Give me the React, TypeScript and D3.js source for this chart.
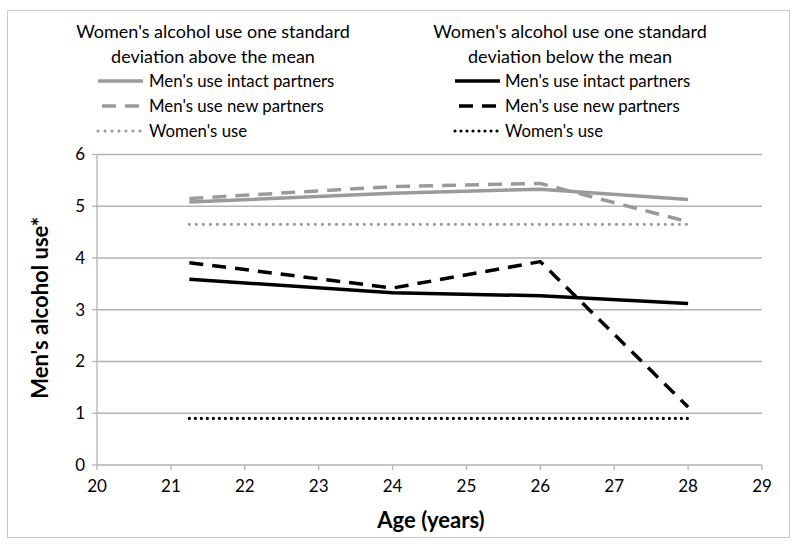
import React from "react";
import * as d3 from "d3";

const ages = [21.25, 24, 26, 28];
const aboveIntact = [5.08, 5.25, 5.33, 5.13];
const aboveNew = [5.15, 5.38, 5.44, 4.70];
const aboveWomen = [4.65, 4.65, 4.65, 4.65];
const belowIntact = [3.59, 3.33, 3.27, 3.12];
const belowNew = [3.91, 3.42, 3.93, 1.12];
const belowWomen = [0.9, 0.9, 0.9, 0.9];
const xTicks = [20, 21, 22, 23, 24, 25, 26, 27, 28, 29];
const yTicks = [0, 1, 2, 3, 4, 5, 6];

const legendTitles = [
  ["Women's alcohol use one standard", "deviation above the mean"],
  ["Women's alcohol use one standard", "deviation below the mean"],
];
const legendLabels = ["Men's use intact partners", "Men's use new partners", "Women's use"];

const GRAY = "#9a9a9a";
const BLACK = "#000";
const FONT = "Lato, 'Open Sans', sans-serif";

type Series = { values: number[]; color: string; dash: string; cap: string; width: number };
const series: Series[] = [
  { values: aboveIntact, color: GRAY, dash: "none", cap: "butt", width: 3.5 },
  { values: aboveNew, color: GRAY, dash: "14,9", cap: "butt", width: 3.5 },
  { values: aboveWomen, color: GRAY, dash: "0,7", cap: "round", width: 3.2 },
  { values: belowIntact, color: BLACK, dash: "none", cap: "butt", width: 3.5 },
  { values: belowNew, color: BLACK, dash: "14,9", cap: "butt", width: 3.5 },
  { values: belowWomen, color: BLACK, dash: "0,6", cap: "round", width: 3.2 },
];

export default function App() {
  const W = 800, H = 546;
  const x = d3.scaleLinear().domain([20, 29]).range([97, 762]);
  const y = d3.scaleLinear().domain([0, 6]).range([465, 154.5]);
  const line = d3.line<[number, number]>().x(d => x(d[0])).y(d => y(d[1]));

  const legendCols = [
    { titleX: 213, sampleX: 98, textX: 149 },
    { titleX: 570, sampleX: 455, textX: 505 },
  ];

  return (
    <svg width={W} height={H} style={{ position: "absolute", left: 0, top: 0 }} fontFamily={FONT}>
      <rect x={0} y={0} width={W} height={H} fill="#fff" />
      <rect x={7.5} y={10.5} width={782} height={527} fill="#fff" stroke="#c8c8c8" strokeWidth={1} />

      {/* gridlines */}
      {yTicks.map(t => (
        <line key={"g" + t} x1={x(20)} x2={x(29)} y1={y(t)} y2={y(t)} stroke="#b3b3b3" strokeWidth={1.3} />
      ))}
      {/* y axis */}
      <line x1={x(20)} x2={x(20)} y1={y(0)} y2={y(6)} stroke="#b3b3b3" strokeWidth={1.3} />
      {yTicks.map(t => (
        <g key={"yt" + t}>
          <line x1={x(20) - 5} x2={x(20)} y1={y(t)} y2={y(t)} stroke="#b3b3b3" strokeWidth={1.3} />
          <text x={x(20) - 12} y={y(t)} dy="0.35em" textAnchor="end" fontSize={17} fill="#000">{t}</text>
        </g>
      ))}
      {/* x ticks */}
      {xTicks.map(t => (
        <g key={"xt" + t}>
          <line x1={x(t)} x2={x(t)} y1={y(0)} y2={y(0) + 5} stroke="#b3b3b3" strokeWidth={1.3} />
          <text x={x(t)} y={y(0) + 27} textAnchor="middle" fontSize={17} fill="#000">{t}</text>
        </g>
      ))}

      {/* series */}
      {series.map((s, i) => (
        <path
          key={"s" + i}
          d={line(ages.map((a, j) => [a, s.values[j]] as [number, number])) || ""}
          fill="none"
          stroke={s.color}
          strokeWidth={s.width}
          strokeDasharray={s.dash === "none" ? undefined : s.dash}
          strokeLinecap={s.cap as any}
          strokeLinejoin="round"
        />
      ))}

      {/* axis titles */}
      <text x={431} y={528} textAnchor="middle" fontSize={22} fontWeight="bold" fill="#000">Age (years)</text>
      <text transform={`translate(48,${y(3) - 2}) rotate(-90)`} textAnchor="middle" fontSize={22} fontWeight="bold" fill="#000">Men's alcohol use*</text>

      {/* legend */}
      {legendCols.map((c, ci) => (
        <g key={"lc" + ci}>
          <text x={c.titleX} y={38} textAnchor="middle" fontSize={18} fill="#000">{legendTitles[ci][0]}</text>
          <text x={c.titleX} y={63} textAnchor="middle" fontSize={18} fill="#000">{legendTitles[ci][1]}</text>
          {legendLabels.map((lab, li) => {
            const s = series[ci * 3 + li];
            const yy = 81 + li * 25;
            return (
              <g key={"li" + li}>
                <line
                  x1={c.sampleX} x2={c.sampleX + 45} y1={yy} y2={yy}
                  stroke={s.color} strokeWidth={s.width}
                  strokeDasharray={s.dash === "none" ? undefined : s.dash}
                  strokeLinecap={s.cap as any}
                  strokeDashoffset={s.dash === "14,9" ? -4 : 0}
                />
                <text x={c.textX} y={yy} dy="0.35em" fontSize={16.8} fill="#000">{lab}</text>
              </g>
            );
          })}
        </g>
      ))}
    </svg>
  );
}
